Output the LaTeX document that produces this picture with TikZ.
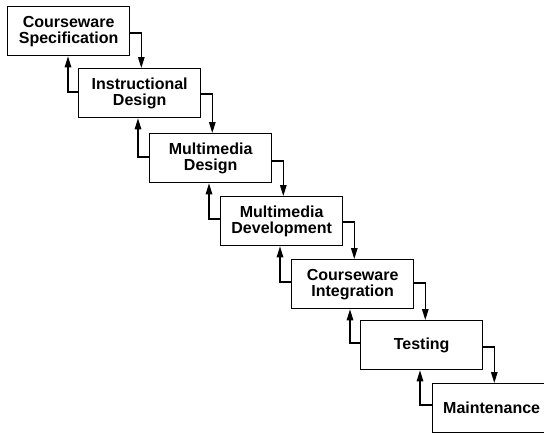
\documentclass[tikz,border=0pt]{standalone}
\usepackage{fontspec}
\setmainfont{Liberation Sans}
\usetikzlibrary{arrows.meta}
\begin{document}
\begin{tikzpicture}[x=1pt,y=-1pt,
  box/.style={draw, line width=1.3pt, anchor=north west, minimum width=122pt,
    minimum height=49pt, align=center, inner sep=0pt,
    font=\fontsize{16}{16}\selectfont\bfseries},
  flow/.style={line width=1.3pt, -{Triangle[length=11pt,width=6.5pt]}}]
\useasboundingbox (0,0) rectangle (544,432);
\node[box] (b1) at (7,6)    {Courseware\\Specification};
\node[box] (b2) at (78,68)  {Instructional\\Design};
\node[box] (b3) at (149,133){Multimedia\\Design};
\node[box] (b4) at (220,196){Multimedia\\Development};
\node[box] (b5) at (291,259){Courseware\\Integration};
\node[box] (b6) at (360,320){Testing};
\node[box, minimum width=130pt] (b7) at (432,383){\hspace*{-12pt}Maintenance};
% forward arrows
\draw[flow] ([yshift=-27pt]b1.north east) -- ++(11,0) coordinate (d1) -- (d1 |- b2.north);
\draw[flow] ([yshift=-26pt]b2.north east) -- ++(11,0) coordinate (d2) -- (d2 |- b3.north);
\draw[flow] ([yshift=-28pt]b3.north east) -- ++(11,0) coordinate (d3) -- (d3 |- b4.north);
\draw[flow] ([yshift=-26pt]b4.north east) -- ++(11,0) coordinate (d4) -- (d4 |- b5.north);
\draw[flow] ([yshift=-24pt]b5.north east) -- ++(11,0) coordinate (d5) -- (d5 |- b6.north);
\draw[flow] ([yshift=-27pt]b6.north east) -- ++(11,0) coordinate (d6) -- (d6 |- b7.north);
% feedback arrows
\draw[flow] ([yshift=-24pt]b2.north west) -- ++(-10,0) coordinate (u1) -- (u1 |- b1.south);
\draw[flow] ([yshift=-24pt]b3.north west) -- ++(-11,0) coordinate (u2) -- (u2 |- b2.south);
\draw[flow] ([yshift=-23pt]b4.north west) -- ++(-11,0) coordinate (u3) -- (u3 |- b3.south);
\draw[flow] ([yshift=-23pt]b5.north west) -- ++(-11,0) coordinate (u4) -- (u4 |- b4.south);
\draw[flow] ([yshift=-23pt]b6.north west) -- ++(-10,0) coordinate (u5) -- (u5 |- b5.south);
\draw[flow] ([yshift=-22pt]b7.north west) -- ++(-12,0) coordinate (u6) -- (u6 |- b6.south);
\end{tikzpicture}
\end{document}
